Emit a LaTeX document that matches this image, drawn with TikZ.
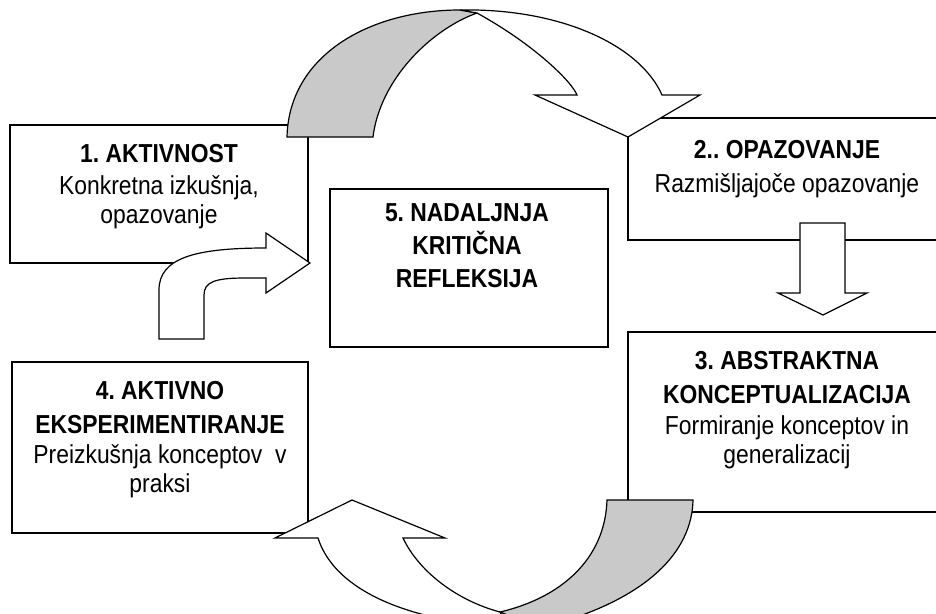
\documentclass[tikz,border=0pt]{standalone}
\usepackage{fontspec}
\setmainfont{Liberation Sans}[FakeStretch=0.88]
\frenchspacing

\begin{document}
\begin{tikzpicture}[x=1pt, y=-1pt,
    box/.style={rectangle, draw, line width=1.3pt},
    txt/.style={align=center, anchor=north, inner sep=0pt, font=\fontsize{26}{29}\selectfont},
    band/.style={draw, line width=1.2pt, line join=miter, fill=white},
    shade/.style={band, fill=black!21}]
    \useasboundingbox (0,0) rectangle (936,613);

    % Stages
    \node[box, minimum width=298pt, minimum height=138pt] (act) at (159,194) {};
    \node[box, minimum width=318pt, minimum height=122pt] (obs) at (787,179) {};
    \node[box, minimum width=318pt, minimum height=180pt] (abs) at (787,422) {};
    \node[box, minimum width=296pt, minimum height=171pt] (exp) at (160,447.5) {};
    \node[box, minimum width=278pt, minimum height=158pt] (refl) at (469,268) {};

    % Stage texts
    \node[txt] (actT) at (159,144) {\textbf{1. AKTIVNOST}\\[3pt] Konkretna izkušnja,\\ opazovanje};
    \node[txt] (obsT) at (787,140) {\textbf{2.. OPAZOVANJE}\\[5pt] Razmišljajoče opazovanje};
    \node[txt] (absT) at (787,351) {\textbf{3. ABSTRAKTNA}\\[5pt] \textbf{KONCEPTUALIZACIJA}\\[2pt] Formiranje konceptov in\\ generalizacij};
    \node[txt] (expT) at (160,381) {\textbf{4. AKTIVNO}\\[5pt] \textbf{EKSPERIMENTIRANJE}\\[1pt] Preizkušnja konceptov~ v\\ praksi};
    \node[txt] (reflT) at (467,203) {\textbf{5. NADALJNJA}\\[4pt] \textbf{KRITIČNA}\\[4pt] \textbf{REFLEKSIJA}};

    % Block arrows
    % top: 1 -> 2, twisted band
    \draw[shade] (287,137) .. controls (289,55) and (370,10) .. (460,10) -- (477,13)
        .. controls (430,30) and (380,80) .. (373,137) -- cycle;
    \draw[band] (460,10) .. controls (560,8) and (640,45) .. (662,95) -- (700,95) -- (628,137)
        -- (535,95) -- (577,95) .. controls (572,82) and (535,45) .. (477,13) -- cycle;
    % 2 -> 3
    \draw[band] (800,223) -- (845,223) -- (845,293) -- (867,293) -- (823,315)
        -- (778,293) -- (800,293) -- cycle;
    % bottom: 3 -> 4
    \draw[band] (318,538) .. controls (333,585) and (395,620) .. (510,628) -- (500,612)
        .. controls (455,600) and (418,570) .. (403,538) -- (445,538) -- (352,500)
        -- (275,538) -- cycle;
    \draw[shade] (607,500) -- (693,500) .. controls (692,550) and (650,600) .. (540,628)
        -- (500,612) .. controls (560,598) and (605,560) .. (607,500) -- cycle;
    % 4 -> 1, bent
    \draw[band] (159,339) -- (159,290) .. controls (159,258) and (195,248) .. (266,248)
        -- (266,233) -- (310,263) -- (266,293) -- (266,278) -- (245,278)
        .. controls (215,278) and (204,282) .. (204,295) -- (204,339) -- cycle;
\end{tikzpicture}
\end{document}
